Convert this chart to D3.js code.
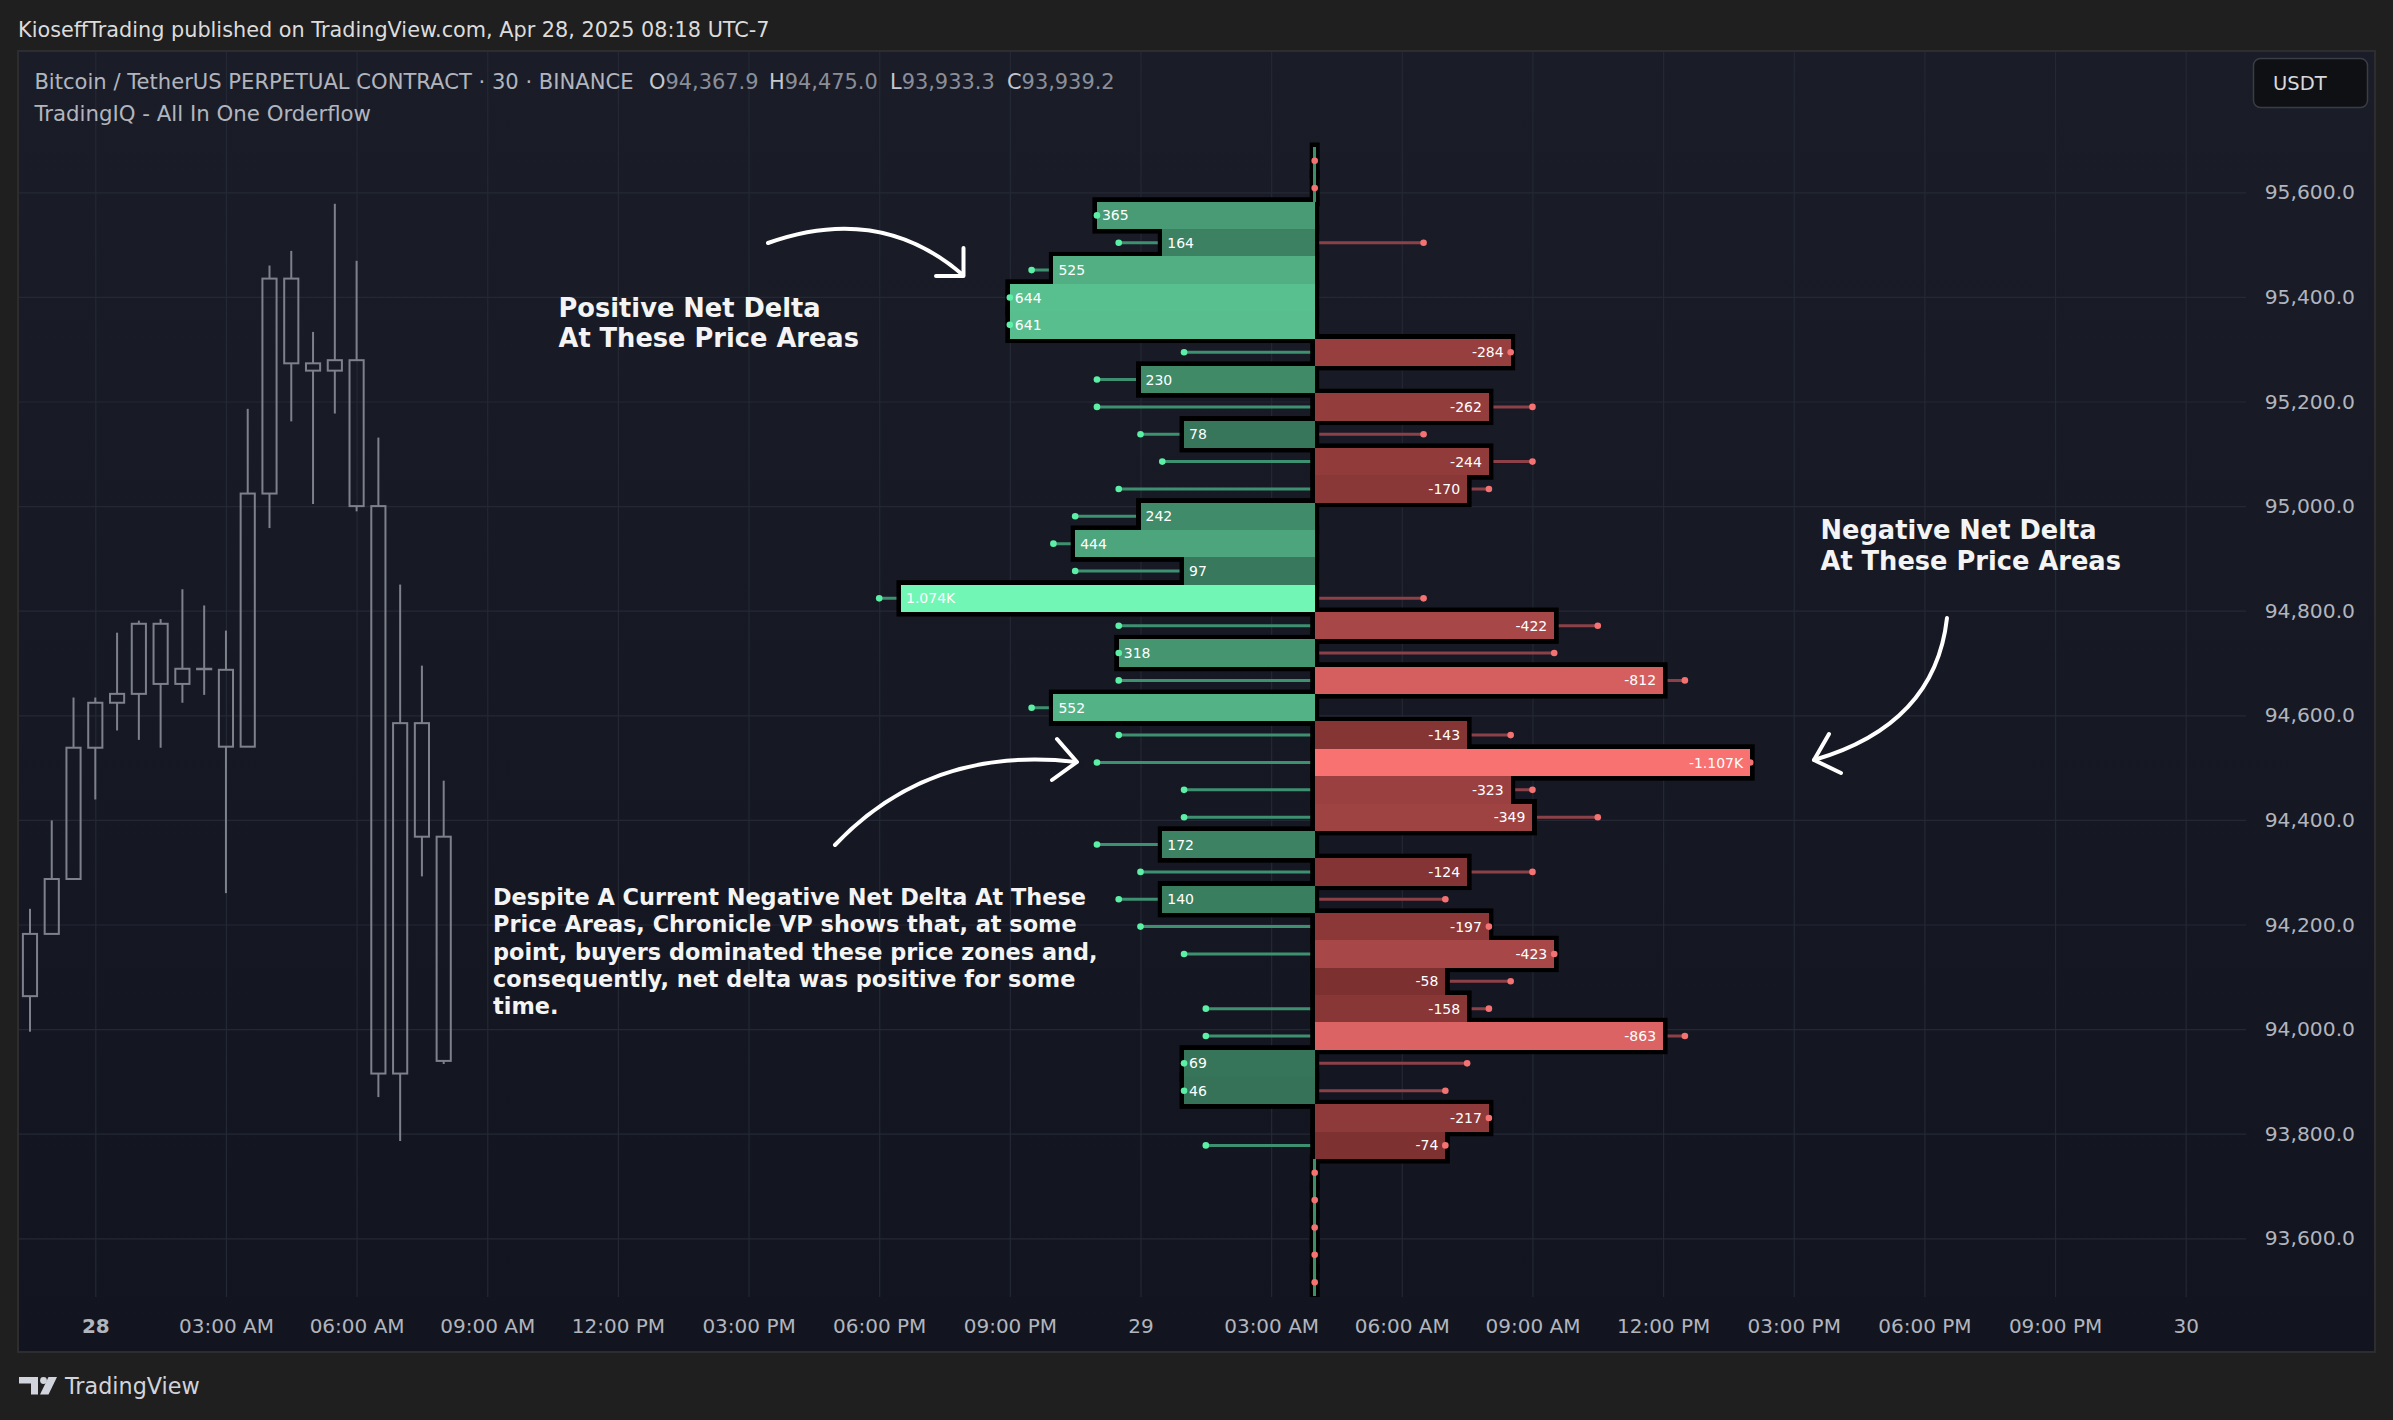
<!DOCTYPE html>
<html>
<head>
<meta charset="utf-8">
<title>BTCUSDT.P 30 - TradingIQ All In One Orderflow</title>
<script src="https://cdnjs.cloudflare.com/ajax/libs/d3/7.8.5/d3.min.js"></script>
<style>
  html, body { margin: 0; padding: 0; background: #1f1f1f; }
  svg { display: block; }
</style>
</head>
<body>
<div id="chart-area"></div>
<script>
/*
*    BTCUSDT.P 30m + Chronicle VP net delta profile
*/

// 30m candles, Apr 27 22:30 -> Apr 28 08:00
var candleTimes = ["2025-04-27T22:30", "2025-04-27T23:00", "2025-04-27T23:30", "2025-04-28T00:00",
    "2025-04-28T00:30", "2025-04-28T01:00", "2025-04-28T01:30", "2025-04-28T02:00", "2025-04-28T02:30",
    "2025-04-28T03:00", "2025-04-28T03:30", "2025-04-28T04:00", "2025-04-28T04:30", "2025-04-28T05:00",
    "2025-04-28T05:30", "2025-04-28T06:00", "2025-04-28T06:30", "2025-04-28T07:00", "2025-04-28T07:30",
    "2025-04-28T08:00"]
var candleOpen  = [94063, 94182, 94287, 94538, 94624, 94641, 94775, 94660, 94689, 94687,
    94540, 95024, 95435, 95273, 95259, 95279, 95000, 93915, 94585, 94367.9]
var candleHigh  = [94230, 94399, 94634, 94634, 94758, 94781, 94784, 94841, 94810, 94762,
    95186, 95460, 95488, 95333, 95578, 95469, 95131, 94850, 94695, 94475.0]
var candleLow   = [93995, 94182, 94287, 94439, 94571, 94553, 94538, 94624, 94639, 94260,
    94540, 94958, 95162, 95004, 95177, 94990, 93870, 93786, 94292, 93933.3]
var candleClose = [94182, 94287, 94538, 94624, 94641, 94775, 94660, 94689, 94688, 94540,
    95024, 95435, 95273, 95259, 95279, 95000, 93915, 94585, 94367.9, 93939.2]

// profile rows (price level, current net delta, highest +delta and -delta seen at that level)
var profileTime = "2025-04-29T04:00"
var rowPrice = [95660.4, 95608.1, 95555.8, 95503.5, 95451.2, 95398.9, 95346.6, 95294.3, 95242.0, 95189.7,
    95137.4, 95085.1, 95032.8, 94980.5, 94928.2, 94875.9, 94823.6, 94771.3, 94719.0, 94666.7,
    94614.4, 94562.1, 94509.8, 94457.5, 94405.2, 94352.9, 94300.6, 94248.3, 94196.0, 94143.7,
    94091.4, 94039.1, 93986.8, 93934.5, 93882.2, 93829.9, 93777.6, 93725.3, 93673.0, 93620.7,
    93568.4, 93516.1]
var netDelta = [null, null, 365, 164, 525, 644, 641, -284, 230, -262,
    78, -244, -170, 242, 444, 97, 1074, -422, 318, -812,
    552, -143, -1107, -323, -349, 172, -124, 140, -197, -423,
    -58, -158, -863, 69, 46, -217, -74, null, null, null,
    null, null]
var maxBuyDelta = [null, null, 365, 303, 602, 644, 641, 78, 378, 378,
    228, 153, 303, 452, 527, 452, 1127, 303, 318, 303,
    602, 303, 378, 78, 78, 378, 228, 303, 228, 78,
    null, 3, 3, 69, 46, null, 3, null, null, null,
    null, null]
var maxSellDelta = [null, null, null, 3, null, null, null, 284, null, 378,
    3, 378, 228, null, null, null, 3, 602, 452, 902,
    null, 303, 1107, 378, 602, null, 378, 78, 197, 423,
    303, 228, 902, 153, 78, 217, 74, null, null, null,
    null, null]

var priceTicks = [93600, 93800, 94000, 94200, 94400, 94600, 94800, 95000, 95200, 95400, 95600]
var timeLabels = ["28", "03:00 AM", "06:00 AM", "09:00 AM", "12:00 PM", "03:00 PM", "06:00 PM", "09:00 PM",
    "29", "03:00 AM", "06:00 AM", "09:00 AM", "12:00 PM", "03:00 PM", "06:00 PM", "09:00 PM", "30"]

var W = 2393
var H = 1420
var panel = {l: 19, t: 52, r: 2374, b: 1351}
var plot = {l: 19, t: 52, r: 2246, b: 1297}
var uiFont = "'DejaVu Sans', Verdana, sans-serif"

var svg = d3.select("#chart-area").append("svg")
    .attr("width", W)
    .attr("height", H)

svg.append("rect")
    .attr("width", W)
    .attr("height", H)
    .attr("fill", "#1f1f1f")

var defs = svg.append("defs")
var grad = defs.append("linearGradient")
    .attr("id", "bg")
    .attr("x1", 0).attr("y1", 0).attr("x2", 0).attr("y2", 1)
grad.append("stop").attr("offset", "0%").attr("stop-color", "#1a1d28")
grad.append("stop").attr("offset", "100%").attr("stop-color", "#12151f")

defs.append("clipPath").attr("id", "plot-clip")
    .append("rect")
    .attr("x", plot.l)
    .attr("y", plot.t)
    .attr("width", plot.r - plot.l)
    .attr("height", plot.b - plot.t)

svg.append("rect")
    .attr("x", panel.l - 1)
    .attr("y", panel.t - 1)
    .attr("width", panel.r - panel.l + 2)
    .attr("height", panel.b - panel.t + 2)
    .attr("fill", "url(#bg)")
    .attr("stroke", "#2d2d2f")
    .attr("stroke-width", 2)

var parseTime = d3.utcParse("%Y-%m-%dT%H:%M")

var x = d3.scaleUtc()
    .domain([parseTime("2025-04-28T00:00"), parseTime("2025-04-30T00:00")])
    .range([95.3, 2185.7])

var y = d3.scaleLinear()
    .domain([93600, 95600])
    .range([1238.3, 192.3])

// grid
var xGrid = svg.append("g")
    .attr("transform", "translate(0, " + plot.b + ")")
    .call(d3.axisBottom(x).ticks(d3.utcHour.every(3)).tickSize(-(plot.b - plot.t)).tickFormat(""))
xGrid.select(".domain").remove()
xGrid.selectAll("line").attr("stroke", "#242834").attr("stroke-width", 1.2)

var yGrid = svg.append("g")
    .attr("transform", "translate(" + plot.l + ", 0)")
    .call(d3.axisLeft(y).tickValues(priceTicks).tickSize(-(plot.r - plot.l)).tickFormat(""))
yGrid.select(".domain").remove()
yGrid.selectAll("line").attr("stroke", "#242834").attr("stroke-width", 1.2)

// axes labels
var xAxisGroup = svg.append("g")
    .attr("transform", "translate(0, " + plot.b + ")")
    .call(d3.axisBottom(x).ticks(d3.utcHour.every(3)).tickSize(0).tickFormat((d, i) => timeLabels[i]))
xAxisGroup.select(".domain").remove()
xAxisGroup.selectAll("text")
    .attr("y", 35.5)
    .attr("dy", null)
    .attr("fill", "#b2b5be")
    .attr("font-family", uiFont)
    .attr("font-size", "20px")
    .attr("font-weight", (d, i) => i == 0 ? "bold" : "normal")

var yAxisGroup = svg.append("g")
    .attr("transform", "translate(2355, 0)")
    .call(d3.axisRight(y).tickValues(priceTicks).tickSize(0).tickFormat(d3.format(",.1f")))
yAxisGroup.select(".domain").remove()
yAxisGroup.selectAll("text")
    .attr("x", 0)
    .attr("text-anchor", "end")
    .attr("fill", "#b2b5be")
    .attr("font-family", uiFont)
    .attr("font-size", "20.3px")

svg.append("rect")
    .attr("x", 2253.5)
    .attr("y", 58.5)
    .attr("width", 114)
    .attr("height", 49)
    .attr("rx", 7)
    .attr("fill", "#0f1013")
    .attr("stroke", "#3a3d45")
    .attr("stroke-width", 1.5)
svg.append("text")
    .attr("x", 2273)
    .attr("y", 90)
    .attr("fill", "#d8d9dd")
    .attr("font-family", uiFont)
    .attr("font-size", "19.5px")
    .text("USDT")

var g = svg.append("g").attr("clip-path", "url(#plot-clip)")

// candles
var candles = candleTimes.map((t, i) => ({
    t: parseTime(t), o: candleOpen[i], h: candleHigh[i], l: candleLow[i], c: candleClose[i]
}))
var t0 = candles[0].t
var barStep = x(d3.utcMinute.offset(t0, 30)) - x(t0)
var bodyW = barStep * 0.65
var candleColor = "#7e818b"

var candleG = g.append("g")
candleG.selectAll(".wick-top").data(candles).enter().append("line")
    .attr("x1", d => x(d.t)).attr("x2", d => x(d.t))
    .attr("y1", d => y(d.h)).attr("y2", d => y(Math.max(d.o, d.c)))
    .attr("stroke", candleColor).attr("stroke-width", 2)
candleG.selectAll(".wick-bottom").data(candles).enter().append("line")
    .attr("x1", d => x(d.t)).attr("x2", d => x(d.t))
    .attr("y1", d => y(Math.min(d.o, d.c))).attr("y2", d => y(d.l))
    .attr("stroke", candleColor).attr("stroke-width", 2)
candleG.selectAll(".body").data(candles).enter().append("rect")
    .attr("x", d => x(d.t) - bodyW / 2)
    .attr("y", d => y(Math.max(d.o, d.c)))
    .attr("width", bodyW)
    .attr("height", d => Math.max(0.5, y(Math.min(d.o, d.c)) - y(Math.max(d.o, d.c))))
    .attr("fill", "none")
    .attr("stroke", candleColor)
    .attr("stroke-width", 2)

// profile
var pc = parseTime(profileTime)
var cx = x(pc)
var half = (rowPrice[0] - rowPrice[1]) / 2

// bar length in 30m bars
var barCount = d3.scaleLinear().domain([0, 1000]).range([4.96, 18.31])
function edgeX(v, side) {
    var n = Math.round(barCount(Math.abs(v)))
    return x(d3.utcMinute.offset(pc, side * 30 * n))
}

var rows = rowPrice.map((p, i) => ({p: p, v: netDelta[i], buy: maxBuyDelta[i], sell: maxSellDelta[i]}))

var maxPos = d3.max(netDelta, d => d > 0 ? d : 0)
var maxNeg = d3.max(netDelta, d => d < 0 ? -d : 0)
var green = d3.scaleLinear().domain([0, maxPos]).range(["#326c53", "#72f6b6"])
var red = d3.scaleLinear().domain([0, maxNeg]).range(["#752c2c", "#f87272"])

function barX(d) {
    if (d.v == null) return cx - 0.5
    return d.v > 0 ? edgeX(d.v, -1) : cx
}
function barW(d) {
    if (d.v == null) return 1
    return d.v > 0 ? cx - edgeX(d.v, -1) : edgeX(d.v, 1) - cx
}

var lineG = g.append("g")
lineG.selectAll(".buy-line").data(rows.filter(d => d.buy != null)).enter().append("line")
    .attr("x1", d => edgeX(d.buy, -1)).attr("x2", cx)
    .attr("y1", d => y(d.p)).attr("y2", d => y(d.p))
    .attr("stroke", "#3e9170").attr("stroke-width", 3)
lineG.selectAll(".sell-line").data(rows.filter(d => d.sell != null)).enter().append("line")
    .attr("x1", cx).attr("x2", d => edgeX(d.sell, 1))
    .attr("y1", d => y(d.p)).attr("y2", d => y(d.p))
    .attr("stroke", "#8c4047").attr("stroke-width", 3)

var outlineG = g.append("g")
outlineG.selectAll("rect").data(rows).enter().append("rect")
    .attr("x", barX)
    .attr("y", d => y(d.p + half))
    .attr("width", barW)
    .attr("height", d => y(d.p - half) - y(d.p + half))
    .attr("fill", "#000")
    .attr("stroke", "#000")
    .attr("stroke-width", 9)
    .attr("stroke-linejoin", "miter")

var fillG = g.append("g").attr("shape-rendering", "crispEdges")
fillG.selectAll("rect").data(rows).enter().append("rect")
    .attr("x", d => d.v == null ? cx - 1.3 : barX(d))
    .attr("y", d => y(d.p + half))
    .attr("width", d => d.v == null ? 2.6 : barW(d))
    .attr("height", d => y(d.p - half) - y(d.p + half))
    .attr("fill", d => d.v == null ? "#3d8f68" : d.v > 0 ? green(d.v) : red(-d.v))

var dotG = g.append("g")
dotG.selectAll(".buy-dot").data(rows.filter(d => d.buy != null)).enter().append("circle")
    .attr("cx", d => edgeX(d.buy, -1))
    .attr("cy", d => y(d.p))
    .attr("r", 3.3)
    .attr("fill", "#5cf0a6")
dotG.selectAll(".sell-dot").data(rows.filter(d => d.sell != null || d.v == null)).enter().append("circle")
    .attr("cx", d => d.v == null ? cx : edgeX(d.sell, 1))
    .attr("cy", d => y(d.p))
    .attr("r", 3.3)
    .attr("fill", "#f47272")

var fmtDelta = v => Math.abs(v) >= 1000 ? (v / 1000).toFixed(3) + "K" : String(v)
g.append("g").selectAll("text").data(rows.filter(d => d.v != null)).enter().append("text")
    .attr("x", d => d.v > 0 ? edgeX(d.v, -1) + 5 : edgeX(d.v, 1) - 7)
    .attr("y", d => y(d.p))
    .attr("dy", "0.36em")
    .attr("text-anchor", d => d.v > 0 ? "start" : "end")
    .attr("fill", "#ffffff")
    .attr("font-family", uiFont)
    .attr("font-size", "14px")
    .text(d => fmtDelta(d.v))

// annotations
var notes = g.append("g")
    .attr("fill", "none")
    .attr("stroke", "#ffffff")
    .attr("stroke-width", 4)
    .attr("stroke-linecap", "round")
    .attr("stroke-linejoin", "round")
notes.append("path").attr("d", "M768,243 Q880,203 963,275")
notes.append("path").attr("d", "M963.5,248 L963.5,276 L936,276")
notes.append("path").attr("d", "M835,845 Q930,745 1076,762")
notes.append("path").attr("d", "M1057,739 L1077,762 L1052,780")
notes.append("path").attr("d", "M1947,618 Q1935,725 1814,760")
notes.append("path").attr("d", "M1829,734 L1814,760 L1841,773")

function noteText(lines, x0, y0, lh, size) {
    var t = svg.append("text")
        .attr("fill", "#f4f4f4")
        .attr("font-family", uiFont)
        .attr("font-weight", "bold")
        .attr("font-size", size + "px")
    lines.forEach((s, i) => {
        t.append("tspan").attr("x", x0).attr("y", y0 + i * lh).text(s)
    })
}
noteText(["Positive Net Delta", "At These Price Areas"], 558.5, 316.7, 30.6, 25.7)
noteText(["Negative Net Delta", "At These Price Areas"], 1820.5, 539, 30.6, 25.7)
noteText(["Despite A Current Negative Net Delta At These",
    "Price Areas, Chronicle VP shows that, at some",
    "point, buyers dominated these price zones and,",
    "consequently, net delta was positive for some",
    "time."], 493, 905, 27.3, 22.4)

// header + legend
svg.append("text")
    .attr("x", 18)
    .attr("y", 36.7)
    .attr("fill", "#dcdcdc")
    .attr("font-family", uiFont)
    .attr("font-size", "20.8px")
    .text("KioseffTrading published on TradingView.com, Apr 28, 2025 08:18 UTC-7")

svg.append("text")
    .attr("x", 34.4)
    .attr("y", 88.5)
    .attr("fill", "#b2b5be")
    .attr("font-family", uiFont)
    .attr("font-size", "21.1px")
    .text("Bitcoin / TetherUS PERPETUAL CONTRACT · 30 · BINANCE")

var last = candles.length - 1
var ohlc = [["O", candleOpen[last], 649], ["H", candleHigh[last], 769],
    ["L", candleLow[last], 890], ["C", candleClose[last], 1007]]
ohlc.forEach(d => {
    var t = svg.append("text")
        .attr("x", d[2])
        .attr("y", 88.5)
        .attr("font-family", uiFont)
        .attr("font-size", "20.9px")
    t.append("tspan").attr("fill", "#c6c8cf").text(d[0])
    t.append("tspan").attr("fill", "#8b8e98").text(d3.format(",.1f")(d[1]))
})

svg.append("text")
    .attr("x", 34.4)
    .attr("y", 121)
    .attr("fill", "#b2b5be")
    .attr("font-family", uiFont)
    .attr("font-size", "21.3px")
    .text("TradingIQ - All In One Orderflow")

// footer logo
var logo = svg.append("g").attr("fill", "#d1d4dc")
logo.append("rect").attr("x", 19).attr("y", 1377).attr("width", 19).attr("height", 6.5)
logo.append("rect").attr("x", 31).attr("y", 1377).attr("width", 7).attr("height", 17.5)
logo.append("circle").attr("cx", 43.5).attr("cy", 1380.5).attr("r", 3.4)
logo.append("path").attr("d", "M48.5,1377 L57,1377 L48.5,1394.5 L40,1394.5 Z")
svg.append("text")
    .attr("x", 65)
    .attr("y", 1394.3)
    .attr("fill", "#d1d4dc")
    .attr("font-family", uiFont)
    .attr("font-size", "22.3px")
    .text("TradingView")
</script>
</body>
</html>
